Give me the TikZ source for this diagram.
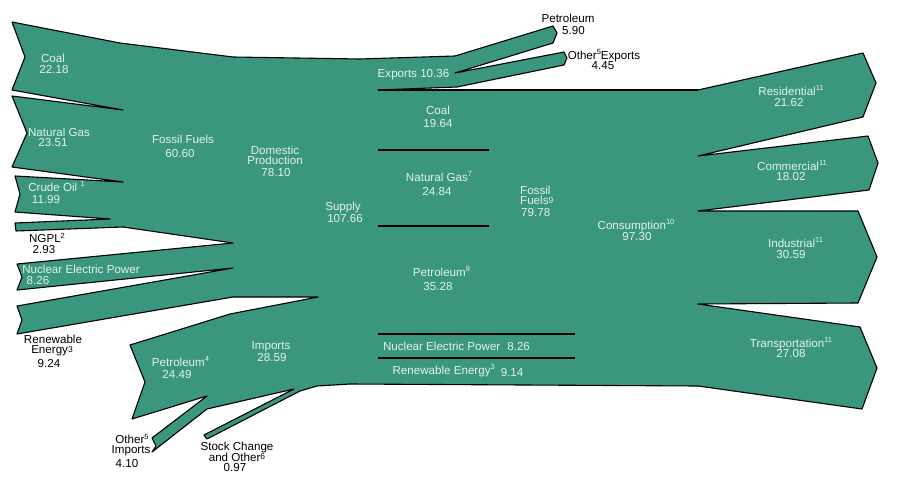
\documentclass[tikz,border=0pt]{standalone}
\usepackage{fontspec}
\setmainfont{Liberation Sans}
\definecolor{flow}{RGB}{58,150,125}
\definecolor{ltxt}{RGB}{228,242,236}
\newcommand\sups[1]{\raisebox{4.6pt}{\fontsize{7.5}{8}\selectfont#1}}
\tikzset{
  flowshape/.style={fill=flow,draw=black,line width=1.1pt,line join=round},
  divider/.style={draw=black,line width=1.4pt},
  lab/.style={inner sep=0pt,text height=8.3pt,text depth=0pt,font=\fontsize{11.6}{12}\selectfont},
  wl/.style={lab,text=ltxt},
  bl/.style={lab,text=black}
}
\begin{document}
\begin{tikzpicture}[x=1pt,y=-1pt]
\useasboundingbox (0,0) rectangle (904,492);
% main flow outline
\draw[flowshape]
 (12,22) -- (120,43) -- (233,57) -- (360,59) -- (455,56)
 -- (553,26) -- (557,33) -- (553,43) -- (455,73)
 -- (564,52) -- (567,58) -- (564,65) -- (457,87) -- (378,90)
 -- (698,90) -- (863,53) -- (876,83) -- (863,117) -- (698,156)
 -- (868,136) -- (878,163) -- (869,190) -- (698,211)
 -- (858,211) -- (877,257) -- (858,303) -- (698,304)
 -- (860,327) -- (877,368) -- (862,409) -- (698,386)
 -- (350,384) -- (317,386) -- (300,391) -- (207,439) -- (204,435) -- (294,389)
 -- (207,409) -- (152,452) -- (156,446) -- (152,438) -- (207,396)
 -- (132,419) -- (145,382) -- (130,345) -- (230,314) -- (318,297)
 -- (233,297) -- (17,334) -- (22,320) -- (17,306) -- (233,268)
 -- (17,290) -- (22,277) -- (17,264) -- (233,243)
 -- (123,227) -- (16,231) -- (15,223) -- (110,219)
 -- (15,212) -- (20,194) -- (15,176) -- (123,182)
 -- (12,167) -- (27,133) -- (12,96) -- (123,110)
 -- (12,90) -- (25,57) -- cycle;
% dividers in consumption
\draw[divider] (378,90) -- (698,90);
\draw[divider] (378,150) -- (489,150);
\draw[divider] (378,226) -- (489,226);
\draw[divider] (378,334) -- (575,334);
\draw[divider] (378,358) -- (575,358);
% left sources
\node[wl] (c1) at (53,58) {Coal};
\node[wl] (c2) at (54,69) {22.18};
\node[wl] (ng1) at (59,132) {Natural Gas};
\node[wl] (ng2) at (53,142.5) {23.51};
\node[wl] (co1) at (56.5,187) {Crude Oil \sups{1}};
\node[wl] (co2) at (46,199) {11.99};
\node[bl] (ngpl1) at (47,238.5) {NGPL\sups{2}};
\node[bl] (ngpl2) at (44,249) {2.93};
\node[wl] (nu1) at (81,269.5) {Nuclear Electric Power};
\node[wl] (nu2) at (38,280) {8.26};
\node[bl] (re1) at (53,339.5) {Renewable};
\node[bl] (re2) at (52,349.5) {Energy\raisebox{1.5pt}{\fontsize{8.5}{9}\selectfont3}};
\node[bl] (re3) at (49,363) {9.24};
\node[wl] (ff1) at (183,139) {Fossil Fuels};
\node[wl] (ff2) at (180,153) {60.60};
\node[wl] (dp1) at (275,150.5) {Domestic};
\node[wl] (dp2) at (275,160.5) {Production};
\node[wl] (dp3) at (276,172.5) {78.10};
\node[wl] (su1) at (343,206) {Supply};
\node[wl] (su2) at (345,218) {107.66};
\node[wl] (im1) at (271,345) {Imports};
\node[wl] (im2) at (272,357) {28.59};
\node[wl] (pe1) at (180.5,362) {Petroleum\sups{4}};
\node[wl] (pe2) at (177,374) {24.49};
\node[bl] (oi1) at (132,439.5) {Other\sups{5}};
\node[bl] (oi2) at (131,449.5) {Imports};
\node[bl] (oi3) at (127,463) {4.10};
\node[bl] (sc1) at (237,446.5) {Stock Change};
\node[bl] (sc2) at (237,457) {and Other\raisebox{1.5pt}{\fontsize{8.5}{9}\selectfont6}};
\node[bl] (sc3) at (235,467.5) {0.97};
% exports
\node[wl] (ex) at (413.5,73) {Exports 10.36};
\node[bl] (pex1) at (568,18) {Petroleum};
\node[bl] (pex2) at (573.5,30) {5.90};
\node[bl] (oex1) at (604,55) {Other\sups{5}Exports};
\node[bl] (oex2) at (603,65.5) {4.45};
% consumption by source
\node[wl] (cc1) at (438,110) {Coal};
\node[wl] (cc2) at (438,123) {19.64};
\node[wl] (cn1) at (439,177) {Natural Gas\sups{7}};
\node[wl] (cn2) at (437,191) {24.84};
\node[wl,anchor=west] (cf1) at (520,190.5) {Fossil};
\node[wl,anchor=west] (cf2) at (520,200.5) {Fuels\raisebox{1.5pt}{\fontsize{8.5}{9}\selectfont9}};
\node[wl,anchor=west] (cf3) at (521,212.5) {79.78};
\node[wl] (cp1) at (441.5,272) {Petroleum\sups{8}};
\node[wl] (cp2) at (438,286) {35.28};
\node[wl] (cnu) at (456.5,346) {Nuclear Electric Power\hspace{7pt}8.26};
\node[wl] (cre) at (458,370) {Renewable Energy\sups{3}\hspace{6pt}\raisebox{-2.5pt}{9.14}};
\node[wl] (cons1) at (636,225) {Consumption\sups{10}};
\node[wl] (cons2) at (637,236) {97.30};
% sectors
\node[wl] (res1) at (791,91) {Residential\sups{11}};
\node[wl] (res2) at (789,102) {21.62};
\node[wl] (com1) at (792,166) {Commercial\sups{11}};
\node[wl] (com2) at (791,176.5) {18.02};
\node[wl] (ind1) at (795.5,243) {Industrial\sups{11}};
\node[wl] (ind2) at (791,254) {30.59};
\node[wl] (tr1) at (791,343) {Transportation\sups{11}};
\node[wl] (tr2) at (791,353.5) {27.08};
\end{tikzpicture}
\end{document}
